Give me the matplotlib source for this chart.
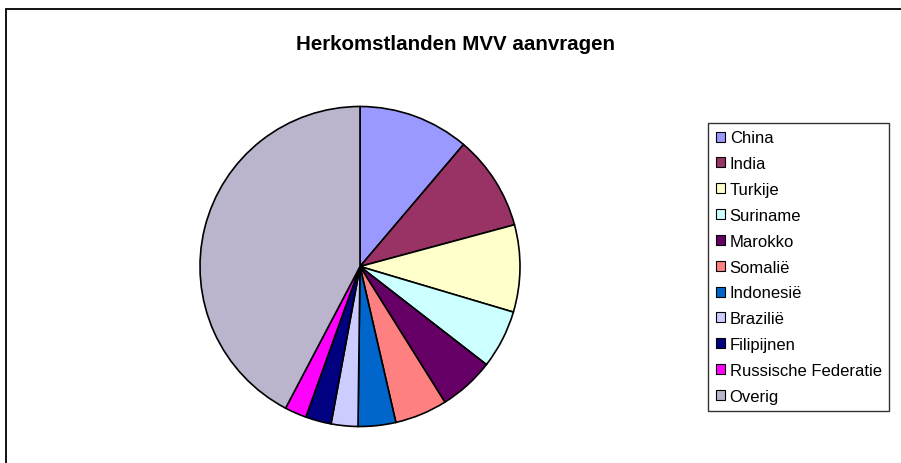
import matplotlib.pyplot as plt
from matplotlib.patches import Rectangle, Patch

landen = ["China", "India", "Turkije", "Suriname", "Marokko", "Somalië",
          "Indonesië", "Brazilië", "Filipijnen", "Russische Federatie", "Overig"]
aandeel = [11.2, 9.6, 8.8, 5.9, 5.6, 5.3, 3.8, 2.7, 2.6, 2.2, 42.3]
kleuren = ["#9999FF", "#993366", "#FFFFCC", "#CCFFFF", "#660066", "#FF8080",
           "#0066CC", "#CCCCFF", "#000080", "#FF00FF", "#BAB5CD"]

plt.rcParams['font.family'] = ['Liberation Sans', 'DejaVu Sans']

W, H = 901, 464
fig = plt.figure(figsize=(W / 100, H / 100), dpi=100)

# chart border (right/bottom run off the picture)
fig.patches.append(Rectangle((6 / W, -0.1), 1.1, (H - 10) / H + 0.1, transform=fig.transFigure,
                             fill=False, edgecolor="black", linewidth=1.3))

fig.text(456 / W, 1 - 45 / H, "Herkomstlanden MVV aanvragen", ha="center", va="center",
         fontsize=14.8, fontweight="bold")

cx, cy, r = 360, 267.5, 160
ax = fig.add_axes([(cx - r) / W, (H - cy - r) / H, 2 * r / W, 2 * r / H])
ax.pie(aandeel, colors=kleuren, startangle=90, counterclock=False, radius=1,
       wedgeprops=dict(edgecolor="black", linewidth=1.2))
ax.set_xlim(-1, 1)
ax.set_ylim(-1, 1)
ax.set_aspect("auto")
ax.axis("off")

handles = [Patch(facecolor=c, edgecolor="black", linewidth=0.8) for c in kleuren]
leg = fig.legend(handles, landen, loc="upper left", bbox_to_anchor=(708 / W, 1 - 124 / H),
                 fontsize=12, frameon=True, fancybox=False, shadow=False,
                 handlelength=0.55, handleheight=0.55, handletextpad=0.3,
                 labelspacing=0.65, borderpad=0.45, borderaxespad=0)
leg.get_frame().set_edgecolor("black")
leg.get_frame().set_linewidth(1.0)

fig.savefig("out.png", dpi=100)
